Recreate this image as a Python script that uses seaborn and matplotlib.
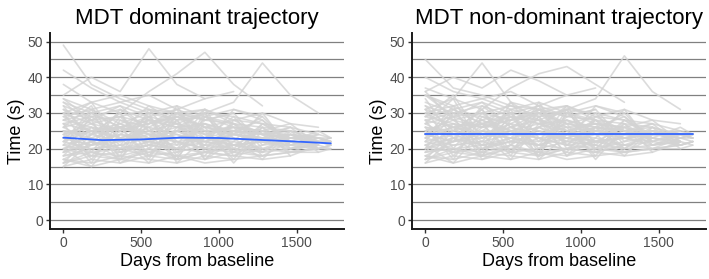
import numpy as np
import pandas as pd
import seaborn as sns
import matplotlib.pyplot as plt

# visit schedule (days from baseline), shared by all subjects
visit_days = [0, 180, 365, 550, 730, 910, 1095, 1280, 1460, 1640, 1720]

# MDT times (s) per subject, dominant side
dom_times = [
    [23, 21, 22, 24, 22, 23, 21, 22, 21, 22, 21],
    [31, 28, 29, 27, 30, 26, 25, 24, 23, 22, 22],
    [16, 18, 17, 19, 18, 17, 19, 18, 19, 20],
    [27, 25, 26, 28, 26, 27, 25, 24, 23],
    [20, 22, 19, 21, 20, 22, 21, 20],
    [33, 30, 32, 29, 31, 28, 30],
    [18, 20, 21, 19, 22, 20, 21, 22, 20, 21],
    [25, 24, 26, 23, 25, 27, 24, 23, 24, 22, 23],
    [29, 31, 27, 30, 28, 29, 27, 26, 25],
    [21, 19, 20, 18, 19, 21, 20, 19, 20, 21],
    [49, 38, 34, 31, 30, 28],
    [24, 27, 25, 28, 26, 24, 26, 25],
    [17, 16, 18, 17, 16, 18, 17],
    [26, 22, 24, 23, 25, 22, 24, 23, 22],
    [30, 33, 35, 32, 30, 31],
    [19, 21, 23, 22, 20, 23, 21, 22, 23, 22],
    [22, 25, 23, 26, 24, 22, 25, 23, 24, 23, 22],
    [28, 26, 25, 27, 29, 26, 28, 27],
    [15, 17, 16, 18, 17, 19, 18, 17, 18],
    [35, 40, 36, 48, 38, 34, 36],
    [23, 21, 24, 22, 21, 23, 22, 20, 21, 20, 20],
    [32, 29, 31, 28, 27, 30, 29, 27, 26],
    [20, 18, 19, 21, 20, 19, 21, 19],
    [26, 28, 25, 27, 29, 31, 28, 30, 27, 26],
    [18, 19, 17, 20, 18, 19, 20, 18, 19, 19],
    [24, 26, 23, 25, 27, 24, 26, 25, 23, 23],
    [42, 37, 33, 35, 31, 34],
    [21, 23, 20, 22, 24, 21, 23, 22, 21],
    [27, 29, 28, 26, 30, 28, 27],
    [16, 19, 18, 20, 17, 19, 18, 20, 19, 20, 21],
    [30, 27, 29, 31, 28, 30, 33, 44, 35, 30],
    [22, 20, 21, 23, 22, 20, 19, 21, 22, 21],
    [25, 23, 26, 24, 23, 25, 24, 22, 23],
    [19, 22, 20, 21, 23, 22, 20],
    [34, 31, 33, 30, 32, 29, 31, 29],
    [38, 33, 30, 36, 41, 47, 38, 32],
    [20, 24, 22, 25, 23, 26, 24, 23, 22, 21],
    [28, 30, 26, 29, 27, 25, 26, 24, 25, 23, 23],
    [17, 15, 17, 16, 18, 16, 17, 18],
    [23, 25, 27, 24, 26, 23, 25, 24, 26, 24, 23],
    [18, 26, 20, 28, 19, 27, 21, 25, 20, 23, 22],
    [30, 19, 29, 21, 28, 20, 27, 22, 24, 21],
    [22, 31, 17, 29, 18, 30, 19, 26, 21, 23, 22],
    [27, 17, 26, 18, 28, 17, 25, 19, 24, 20],
    [16, 24, 30, 18, 25, 31, 20, 27, 22],
    [32, 22, 17, 27, 31, 19, 24, 29, 21, 24],
    [19, 29, 23, 16, 26, 30, 18, 23, 26, 20, 21],
    [25, 16, 28, 24, 17, 29, 26, 18, 22, 25, 23],
    [29, 25, 18, 31, 22, 18, 28, 24, 19, 22],
    [21, 30, 26, 17, 30, 25, 17, 27, 23],
    [17, 21, 31, 25, 20, 28, 30, 21, 25, 19, 20],
    [33, 27, 21, 30, 16, 23, 29, 20, 23, 24],
    [24, 18, 25, 32, 27, 17, 22, 30, 20, 22, 21],
    [26, 32, 19, 22, 29, 26, 16, 25, 27, 21],
    [20, 15, 24, 29, 21, 31, 27, 19, 24, 23, 22],
    [31, 24, 30, 20, 25, 21, 31, 28, 21],
    [15, 22, 27, 23, 30, 24, 19, 26, 18, 21, 20],
    [28, 33, 22, 26, 17, 29, 23, 17, 25, 22, 22],
    [23, 28, 16, 20, 32, 20, 25, 28, 22, 20, 21],
    [34, 28, 32, 25, 29, 23, 27, 24],
]

# MDT times (s) per subject, non-dominant side
nondom_times = [
    [24, 22, 23, 25, 23, 24, 22, 23, 24, 23, 24],
    [32, 29, 30, 28, 31, 27, 26, 25, 24, 25],
    [17, 19, 18, 20, 19, 18, 20, 19, 20, 21],
    [28, 26, 27, 29, 27, 28, 26, 25, 24],
    [21, 23, 20, 22, 21, 23, 22, 21],
    [35, 31, 33, 30, 32, 29, 31],
    [19, 21, 22, 20, 23, 21, 22, 23, 21, 22],
    [26, 25, 27, 24, 26, 28, 25, 24, 25, 23, 24],
    [30, 32, 28, 31, 29, 30, 28, 27, 26],
    [22, 20, 21, 19, 20, 22, 21, 20, 21, 22],
    [45, 37, 35, 32, 31, 29],
    [25, 28, 26, 29, 27, 25, 27, 26],
    [18, 17, 19, 18, 17, 19, 18],
    [27, 23, 25, 24, 26, 23, 25, 24, 23],
    [31, 34, 44, 33, 31, 32],
    [20, 22, 24, 23, 21, 24, 22, 23, 24, 23],
    [23, 26, 24, 27, 25, 23, 26, 24, 25, 24, 23],
    [29, 27, 26, 28, 30, 27, 29, 28],
    [16, 18, 17, 19, 18, 20, 19, 18, 19],
    [36, 40, 37, 42, 39, 35, 37],
    [24, 22, 25, 23, 22, 24, 23, 21, 22, 21, 22],
    [33, 30, 32, 29, 28, 31, 30, 28, 27],
    [21, 19, 20, 22, 21, 20, 22, 20],
    [27, 29, 26, 28, 30, 32, 29, 31, 28, 27],
    [19, 20, 18, 21, 19, 20, 21, 19, 20, 20],
    [25, 27, 24, 26, 28, 25, 27, 26, 24, 24],
    [40, 36, 34, 36, 32, 35],
    [22, 24, 21, 23, 25, 22, 24, 23, 22],
    [28, 30, 29, 27, 31, 29, 28],
    [17, 20, 19, 21, 18, 20, 19, 21, 20, 21, 22],
    [31, 28, 30, 32, 29, 31, 34, 46, 36, 31],
    [23, 21, 22, 24, 23, 21, 20, 22, 23, 22],
    [26, 24, 27, 25, 24, 26, 25, 23, 24],
    [20, 23, 21, 22, 24, 23, 21],
    [35, 32, 34, 31, 33, 30, 32, 30],
    [37, 34, 31, 37, 41, 43, 38, 33],
    [21, 25, 23, 26, 24, 27, 25, 24, 23, 22],
    [29, 31, 27, 30, 28, 26, 27, 25, 26, 24, 24],
    [18, 16, 18, 17, 19, 17, 18, 19],
    [24, 26, 28, 25, 27, 24, 26, 25, 27, 25, 24],
    [19, 27, 21, 29, 20, 28, 22, 26, 21, 24, 23],
    [31, 20, 30, 22, 29, 21, 28, 23, 25, 22],
    [23, 32, 18, 30, 19, 31, 20, 27, 22, 24, 23],
    [28, 18, 27, 19, 29, 18, 26, 20, 25, 21],
    [17, 25, 31, 19, 26, 32, 21, 28, 23],
    [34, 23, 18, 28, 32, 20, 25, 30, 22, 25],
    [20, 30, 24, 17, 27, 31, 19, 24, 27, 21, 22],
    [26, 17, 29, 25, 18, 30, 27, 19, 23, 26, 24],
    [30, 26, 19, 33, 23, 19, 29, 25, 20, 23],
    [22, 31, 27, 18, 31, 26, 18, 28, 24],
    [18, 22, 32, 26, 21, 29, 31, 22, 26, 20, 21],
    [36, 28, 22, 31, 17, 24, 30, 21, 24, 25],
    [25, 19, 26, 33, 28, 18, 23, 31, 21, 23, 22],
    [27, 34, 20, 23, 30, 27, 17, 26, 28, 22],
    [21, 16, 25, 30, 22, 32, 28, 20, 25, 24, 23],
    [32, 25, 31, 21, 26, 22, 32, 29, 22],
    [16, 23, 28, 24, 31, 25, 20, 27, 19, 22, 21],
    [29, 35, 23, 27, 18, 30, 24, 18, 26, 23, 23],
    [24, 29, 17, 21, 33, 21, 26, 29, 23, 21, 22],
    [35, 29, 33, 26, 30, 24, 28, 25],
]

# smoothed group trend
dom_trend_days = [0, 250, 500, 750, 1000, 1250, 1500, 1720]
dom_trend = [23.1, 22.4, 22.6, 23.1, 23.0, 22.5, 22.0, 21.5]
nondom_trend_days = [0, 1720]
nondom_trend = [24.0, 24.0]


def to_long(times):
    rows = []
    for subj, vals in enumerate(times):
        for d, v in zip(visit_days, vals):
            rows.append((subj, d, v))
    return pd.DataFrame(rows, columns=["subject", "days", "time"])


sns.set_theme(style="white")
plt.rcParams["font.family"] = ["Liberation Sans", "DejaVu Sans"]
plt.rcParams["text.color"] = "black"
plt.rcParams["axes.labelcolor"] = "black"

fig = plt.figure(figsize=(7.09, 2.79), dpi=100)
ax1 = fig.add_axes([0.0705, 0.179, 0.415, 0.704])
ax2 = fig.add_axes([0.581, 0.179, 0.415, 0.704])

panels = [
    (ax1, dom_times, dom_trend_days, dom_trend, "MDT dominant trajectory"),
    (ax2, nondom_times, nondom_trend_days, nondom_trend, "MDT non-dominant trajectory"),
]

for ax, times, tdays, tvals, title in panels:
    for y in range(0, 51, 5):
        ax.axhline(y, color="#808080", linewidth=0.9, zorder=0)
    df = to_long(times)
    sns.lineplot(data=df, x="days", y="time", units="subject", estimator=None,
                 color="#d3d3d3", alpha=0.8, linewidth=1.2, ax=ax, zorder=1)
    sns.lineplot(x=tdays, y=tvals, color="#3366FF", linewidth=1.3, ax=ax, zorder=2)
    ax.set_xlim(-86, 1806)
    ax.set_ylim(-2.5, 52.5)
    ax.set_xticks([0, 500, 1000, 1500])
    ax.set_yticks([0, 10, 20, 30, 40, 50])
    ax.set_title(title, fontsize=16, pad=6, color="black")
    ax.set_xlabel("Days from baseline", fontsize=13, labelpad=2)
    ax.set_ylabel("Time (s)", fontsize=13, labelpad=2)
    ax.tick_params(axis="both", labelsize=10, labelcolor="#4d4d4d", length=3,
                   width=1, color="#333333", direction="out", bottom=True, left=True, pad=2)
    for s in ["top", "right"]:
        ax.spines[s].set_visible(False)
    for s in ["left", "bottom"]:
        ax.spines[s].set_color("#1a1a1a")
        ax.spines[s].set_linewidth(1.4)
    ax.grid(False)

fig.savefig("out.png", dpi=100)
